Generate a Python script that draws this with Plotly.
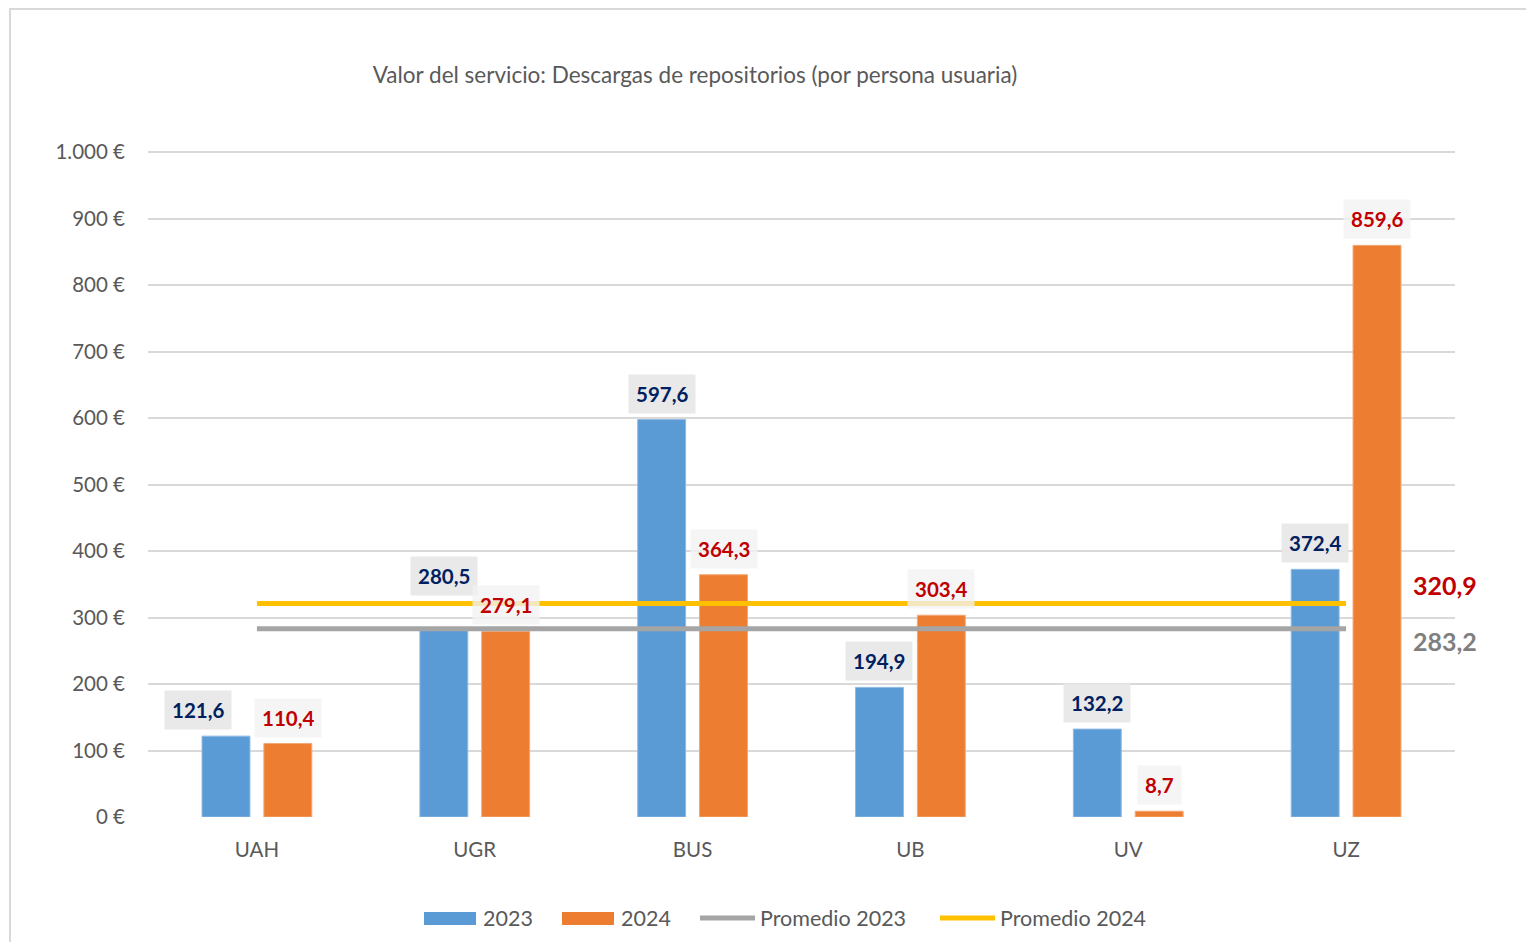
import plotly.graph_objects as go

universidades = ["UAH", "UGR", "BUS", "UB", "UV", "UZ"]
valores_2023 = [121.6, 280.5, 597.6, 194.9, 132.2, 372.4]
valores_2024 = [110.4, 279.1, 364.3, 303.4, 8.7, 859.6]
promedio_2023 = 283.2
promedio_2024 = 320.9
y_ticks = [0, 100, 200, 300, 400, 500, 600, 700, 800, 900, 1000]
y_tick_labels = ["0 €", "100 €", "200 €", "300 €", "400 €", "500 €",
                 "600 €", "700 €", "800 €", "900 €", "1.000 €"]
nombres_leyenda = ["2023", "2024", "Promedio 2023", "Promedio 2024"]

AZUL = "#5B9BD5"
NARANJA = "#ED7D31"
GRIS = "#A5A5A5"
AMARILLO = "#FFC000"
FUENTE = "Lato"

# la página pone 8px de margen al cuerpo
W, H = 1518, 934
L, R, T, B = 140, 71, 142, 125
PW, PH = W - L - R, H - T - B
Y_MAX = 1003


def px_x(px):
    return (px - 8 - L) / PW


def px_y(py):
    return (H - B - (py - 8)) / PH


def fmt(v):
    return f"{v:.1f}".replace(".", ",")


fig = go.Figure()
fig.add_trace(go.Bar(x=universidades, y=valores_2023, name="2023",
                     marker=dict(color=AZUL, line=dict(width=1, color="#8FBAE3")),
                     width=0.22, offset=-0.252))
fig.add_trace(go.Bar(x=universidades, y=valores_2024, name="2024",
                     marker=dict(color=NARANJA, line=dict(width=1, color="#F3A874")),
                     width=0.22, offset=0.032))
fig.add_trace(go.Scatter(x=universidades, y=[promedio_2023] * len(universidades),
                         name="Promedio 2023", mode="lines",
                         line=dict(color=GRIS, width=5)))
fig.add_trace(go.Scatter(x=universidades, y=[promedio_2024] * len(universidades),
                         name="Promedio 2024", mode="lines",
                         line=dict(color=AMARILLO, width=5)))

# etiquetas de datos con caja gris (algunas desplazadas como en el original)
for i, u in enumerate(universidades):
    dx = -59 if u == "UAH" else -31
    dy = 54 if u == "UGR" else 26
    fig.add_annotation(x=u, y=valores_2023[i], text=f"<b>{fmt(valores_2023[i])}</b>",
                       xshift=dx, yshift=dy, showarrow=False, yanchor="middle",
                       font=dict(family=FUENTE, size=20.5, color="#002060"),
                       bgcolor="rgba(232,232,232,0.95)", borderpad=7)
for i, u in enumerate(universidades):
    fig.add_annotation(x=u, y=valores_2024[i], text=f"<b>{fmt(valores_2024[i])}</b>",
                       xshift=31, yshift=26, showarrow=False, yanchor="middle",
                       font=dict(family=FUENTE, size=20.5, color="#C00000"),
                       bgcolor="rgba(242,242,242,0.78)", borderpad=7)

fig.add_annotation(x=universidades[-1], y=promedio_2024, text=f"<b>{fmt(promedio_2024)}</b>",
                   xshift=99, yshift=19, showarrow=False, yanchor="middle",
                   font=dict(family=FUENTE, size=25, color="#C00000"))
fig.add_annotation(x=universidades[-1], y=promedio_2023, text=f"<b>{fmt(promedio_2023)}</b>",
                   xshift=99, yshift=-12, showarrow=False, yanchor="middle",
                   font=dict(family=FUENTE, size=25, color="#7F7F7F"))

# leyenda dibujada a mano (rectángulos anchos como en el original)
ley_y = px_y(918)
muestras = [("rect", AZUL, 424, 476, 481), ("rect", NARANJA, 562, 614, 619),
            ("line", GRIS, 700, 755, 758), ("line", AMARILLO, 940, 995, 998)]
for nombre, (tipo, color, a, b, t) in zip(nombres_leyenda, muestras):
    if tipo == "rect":
        fig.add_shape(type="rect", xref="paper", yref="paper",
                      x0=px_x(a), x1=px_x(b), y0=px_y(925), y1=px_y(912),
                      fillcolor=color, line=dict(width=0))
    else:
        fig.add_shape(type="line", xref="paper", yref="paper",
                      x0=px_x(a), x1=px_x(b), y0=ley_y, y1=ley_y,
                      line=dict(color=color, width=5))
    fig.add_annotation(xref="paper", yref="paper", x=px_x(t), y=ley_y,
                       text=nombre, showarrow=False, xanchor="left", yanchor="middle",
                       font=dict(family=FUENTE, size=21.5, color="#595959"))

# borde del gráfico
fig.add_shape(type="rect", xref="paper", yref="paper",
              x0=px_x(10), x1=px_x(1545), y0=px_y(960), y1=px_y(9),
              line=dict(color="#D9D9D9", width=2))

fig.update_layout(
    width=W, height=H,
    margin=dict(l=L, r=R, t=T, b=B),
    paper_bgcolor="white", plot_bgcolor="white",
    font=dict(family=FUENTE, color="#595959", size=20),
    title=dict(text="Valor del servicio: Descargas de repositorios (por persona usuaria)",
               x=(695 - 8) / W, xanchor="center", y=1 - (75 - 8) / H, yanchor="middle",
               font=dict(family=FUENTE, size=22.5, color="#595959")),
    showlegend=False,
)
fig.update_yaxes(range=[0, Y_MAX], tickvals=y_ticks, ticktext=y_tick_labels,
                 showgrid=True, gridcolor="#D9D9D9", gridwidth=1.5,
                 zeroline=False, showline=False, ticklabelstandoff=22,
                 tickfont=dict(family=FUENTE, size=20.5, color="#595959"))
fig.update_xaxes(range=[-0.5, 5.5], showgrid=False, showline=False, ticks="",
                 ticklabelstandoff=18,
                 tickfont=dict(family=FUENTE, size=20.5, color="#595959"))

fig.write_html("out.html")
